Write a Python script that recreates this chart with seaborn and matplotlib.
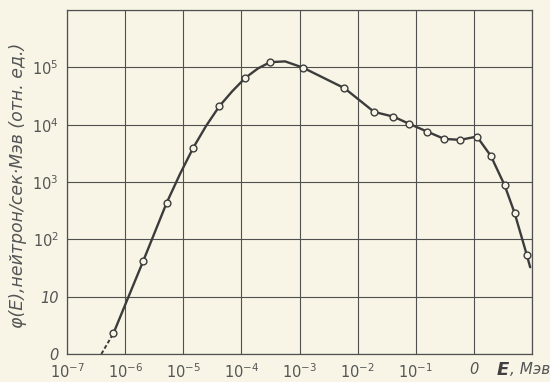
import numpy as np
import pandas as pd
import seaborn as sns
from matplotlib import pyplot as plt
from matplotlib.ticker import FixedLocator, NullLocator

energy = [6.3e-7, 2.06e-6, 5.2e-6, 1.49e-5, 4.18e-5, 1.17e-4, 3.12e-4, 1.14e-3,
          5.93e-3, 1.92e-2, 4.13e-2, 7.8e-2, 0.157, 0.308, 0.58, 1.13, 1.96,
          3.37, 5.0, 8.17]
flux = [2.3, 42.5, 437, 3980, 2.1e4, 6.56e4, 1.23e5, 9.9e4,
        4.33e4, 1.67e4, 1.38e4, 1.03e4, 7580, 5650, 5430, 6200, 2850,
        883, 292, 52.8]

# extra points (no markers)
curve_energy = [8.8e-6, 2.47e-5, 6.92e-5, 1.94e-4, 5.65e-4, 9.3]
curve_flux = [1380, 9500, 3.8e4, 9.6e4, 1.27e5, 32.6]

# dashed tail towards the axis
tail_energy = [3.9e-7, 6.3e-7]
tail_flux = [1.0, 2.3]

x_ticks = [1e-7, 1e-6, 1e-5, 1e-4, 1e-3, 1e-2, 1e-1, 1]
x_labels = ['$10^{-7}$', '$10^{-6}$', '$10^{-5}$', '$10^{-4}$', '$10^{-3}$',
            '$10^{-2}$', '$10^{-1}$', '0']
y_ticks = [1, 10, 1e2, 1e3, 1e4, 1e5]
y_labels = ['0', '10', '$10^{2}$', '$10^{3}$', '$10^{4}$', '$10^{5}$']

paper = '#f8f5e6'
ink = '#3c3c3c'

sns.set_style('white')
plt.rcParams['mathtext.fontset'] = 'dejavusans'
plt.rcParams['mathtext.default'] = 'it'
plt.rcParams['font.family'] = ['DejaVu Sans']

fig = plt.figure(figsize=(5.5, 3.82), dpi=100, facecolor=paper)
ax = fig.add_axes([67/550, 28/382, 465/550, 344/382])
ax.set_facecolor(paper)

line_df = pd.DataFrame({'E': energy + curve_energy, 'phi': flux + curve_flux})
line_df = line_df.sort_values('E')
pts = pd.DataFrame({'E': energy, 'phi': flux})
tail = pd.DataFrame({'E': tail_energy, 'phi': tail_flux})

ax.set_xscale('log')
ax.set_yscale('log')
sns.lineplot(data=line_df, x='E', y='phi', ax=ax, color=ink, lw=1.7, sort=False)
sns.lineplot(data=tail, x='E', y='phi', ax=ax, color=ink, lw=1.4, ls=(0, (2, 1.2)))
sns.scatterplot(data=pts, x='E', y='phi', ax=ax, s=24, facecolor=paper,
                edgecolor=ink, linewidth=1.0, zorder=5)

ax.set_xlim(1e-7, 10)
ax.set_ylim(1, 1e6)
ax.xaxis.set_major_locator(FixedLocator(x_ticks + [10]))
ax.yaxis.set_major_locator(FixedLocator(y_ticks + [1e6]))
ax.xaxis.set_minor_locator(NullLocator())
ax.yaxis.set_minor_locator(NullLocator())
ax.set_xticklabels(x_labels + [''])
ax.set_yticklabels(y_labels + [''])
ax.grid(True, color='#505050', lw=0.8)
ax.tick_params(length=0, labelsize=10.5, colors='#555555', pad=6)
for lab in ax.get_xticklabels() + ax.get_yticklabels():
    lab.set_fontstyle('italic')
for s in ax.spines.values():
    s.set_color('#505050')
    s.set_linewidth(0.9)

ax.set_xlabel('')
ax.set_ylabel('φ(E),нейтрон/сек·Мэв (отн. ед.)', fontsize=12.5, color='#555555',
              style='italic')
ax.yaxis.set_label_coords(-0.085, 0.49)
fig.text(497/550, 1 - 370/382, 'E', fontsize=13, color='#404040',
         ha='left', va='center', style='italic', weight='bold')
fig.text(510/550, 1 - 370/382, ', Мэв', fontsize=11, color='#555555',
         ha='left', va='center', style='italic')

fig.savefig('out.png', dpi=100, facecolor=paper)
